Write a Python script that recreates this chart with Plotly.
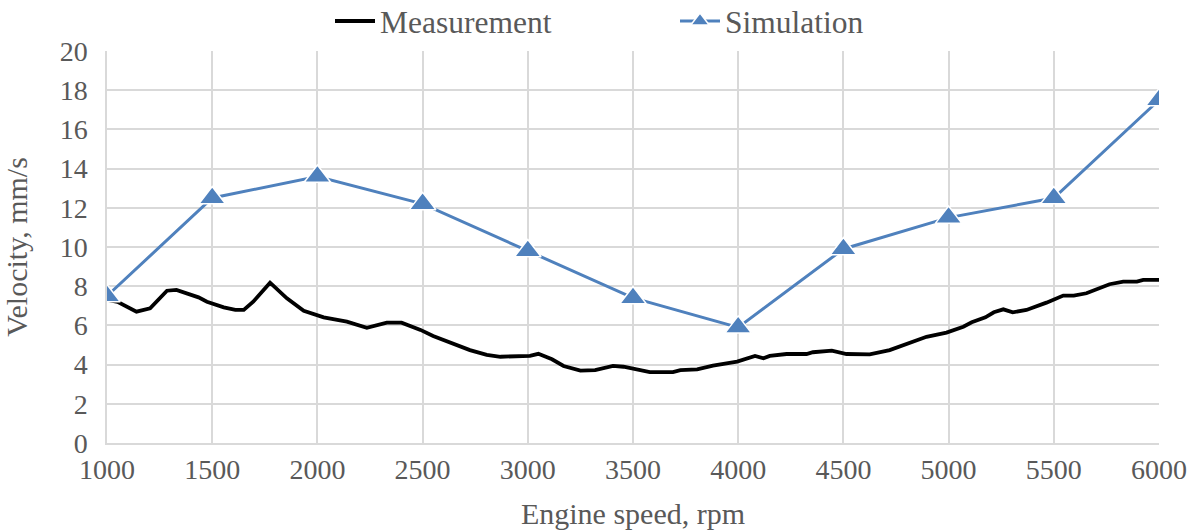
import plotly.graph_objects as go

meas_rpm = [1000, 1050, 1140, 1205, 1285, 1330, 1435, 1475, 1555, 1610, 1650, 1695, 1775,
            1855, 1935, 2030, 2140, 2235, 2330, 2400, 2490, 2550, 2725, 2805, 2870, 3010,
            3050, 3115, 3170, 3250, 3320, 3405, 3455, 3515, 3580, 3690, 3725, 3805, 3880,
            3995, 4080, 4120, 4150, 4230, 4325, 4355, 4445, 4515, 4625, 4720, 4895, 4990,
            5070, 5110, 5175, 5215, 5260, 5305, 5370, 5465, 5545, 5595, 5655, 5765, 5830,
            5895, 5925, 6000]
meas_vel = [7.3, 7.2, 6.7, 6.87, 7.77, 7.81, 7.43, 7.21, 6.92, 6.79, 6.79, 7.21, 8.18,
            7.38, 6.75, 6.41, 6.19, 5.88, 6.14, 6.14, 5.77, 5.46, 4.74, 4.5, 4.4, 4.45,
            4.55, 4.27, 3.93, 3.69, 3.72, 3.93, 3.89, 3.76, 3.62, 3.62, 3.72, 3.76, 3.95,
            4.15, 4.44, 4.32, 4.44, 4.54, 4.54, 4.63, 4.71, 4.54, 4.52, 4.74, 5.42, 5.63,
            5.93, 6.16, 6.41, 6.67, 6.82, 6.67, 6.79, 7.16, 7.52, 7.52, 7.64, 8.1, 8.23,
            8.23, 8.32, 8.32]

# Simulation points
sim_rpm = [1000, 1500, 2000, 2500, 3000, 3500, 4000, 4500, 5000, 5500, 6000]
sim_vel = [7.5, 12.5, 13.6, 12.2, 9.8, 7.4, 5.9, 9.9, 11.5, 12.5, 17.5]

font_main = "Liberation Serif"
grey_text = "#595959"
grid = "#d9d9d9"
tickf = dict(family=font_main, size=28, color=grey_text)
titlef = dict(family=font_main, size=30, color=grey_text)

fig = go.Figure()

fig.add_trace(go.Scatter(
    x=meas_rpm, y=meas_vel, mode="lines", name="Measurement",
    line=dict(color="black", width=3.8)
))
fig.add_trace(go.Scatter(
    x=sim_rpm, y=sim_vel, mode="lines+markers", name="Simulation",
    line=dict(color="#4F81BD", width=3),
    marker=dict(symbol="triangle-up", size=23, color="#4F81BD",
                line=dict(color="white", width=1.5))
))

fig.update_layout(
    width=1200, height=531,
    margin=dict(l=107, r=41, t=51, b=88, autoexpand=False),
    paper_bgcolor="white", plot_bgcolor="white",
    font=dict(family=font_main, size=30, color=grey_text),
    legend=dict(orientation="h", xref="container", yref="container",
                x=0.275, xanchor="left", y=1 - 21 / 531, yanchor="middle",
                font=dict(family=font_main, size=31.5, color=grey_text),
                entrywidth=290, itemwidth=40, bgcolor="rgba(0,0,0,0)"),
    xaxis=dict(
        range=[1000, 6000], tickmode="array",
        tickvals=list(range(1000, 6001, 500)),
        showgrid=True, gridcolor=grid, gridwidth=1.5,
        showline=True, linecolor=grid, linewidth=1.5,
        zeroline=False, ticks="", automargin=False,
        tickfont=tickf, ticklabelstandoff=1,
        title=dict(text="Engine speed, rpm", standoff=19, font=titlef),
    ),
    yaxis=dict(
        range=[0, 20], dtick=2,
        showgrid=True, gridcolor=grid, gridwidth=1.5,
        showline=True, linecolor=grid, linewidth=1.5,
        zeroline=False, ticks="", automargin=False,
        tickfont=tickf, ticklabelstandoff=12,
        title=dict(text="Velocity, mm/s", standoff=28, font=titlef),
    ),
)

fig.write_html("out.html", config={"displayModeBar": False},
               post_script="document.body.style.margin='0';document.body.style.padding='0';")
